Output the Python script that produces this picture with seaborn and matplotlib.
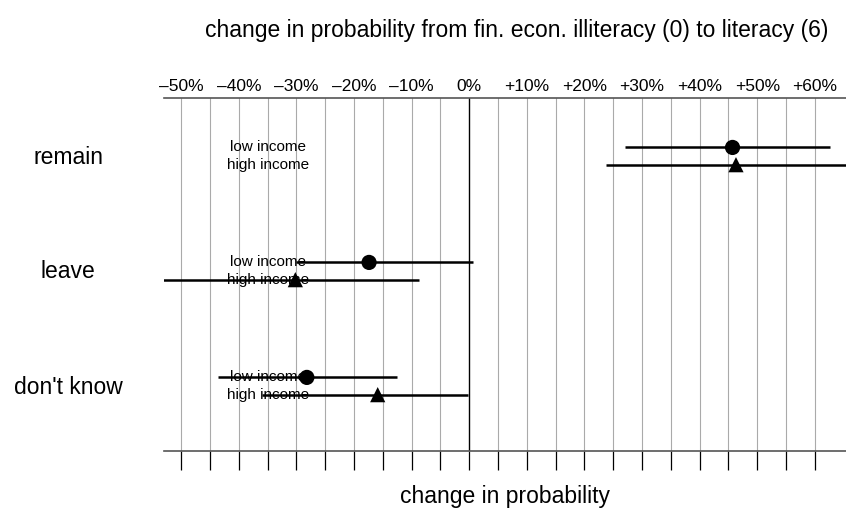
import matplotlib
matplotlib.use('Agg')
import matplotlib.pyplot as plt
import numpy as np
import pandas as pd
import seaborn as sns

sns.set_style('white')
plt.rcParams['font.family'] = ['Liberation Sans', 'DejaVu Sans']
plt.rcParams['text.color'] = 'black'
plt.rcParams['xtick.color'] = 'black'
plt.rcParams['axes.labelcolor'] = 'black'

# data
outcomes = ["remain", "leave", "don't know"]
groups = ["low income", "high income"]
est_low = [0.457, -0.174, -0.282]
lo_low = [0.270, -0.300, -0.437]
hi_low = [0.626, 0.007, -0.126]
est_high = [0.463, -0.302, -0.159]
lo_high = [0.237, -0.560, -0.360]
hi_high = [0.700, -0.087, -0.002]

grid_ticks = np.arange(-0.50, 0.601, 0.05)
label_ticks = np.arange(-0.50, 0.601, 0.10)

rows = []
for i, o in enumerate(outcomes):
    rows.append(dict(outcome=o, row=i, income=groups[0], est=est_low[i], lo=lo_low[i], hi=hi_low[i]))
    rows.append(dict(outcome=o, row=i, income=groups[1], est=est_high[i], lo=lo_high[i], hi=hi_high[i]))
df = pd.DataFrame(rows)
offset = {groups[0]: -0.075, groups[1]: 0.075}
df['y'] = df['row'] + df['income'].map(offset)

fig = plt.figure(figsize=(8.46, 5.13), dpi=100)
ax = fig.add_axes([164 / 846, 62 / 513, 682 / 846, 353 / 513])

# grid
for t in grid_ticks:
    if abs(t) < 1e-9:
        ax.axvline(0, color='black', lw=1.0, zorder=1)
    else:
        ax.axvline(t, color='#aaaaaa', lw=0.8, zorder=1)

# group labels
for i in range(len(outcomes)):
    for g in groups:
        ax.text(-0.35, i + offset[g], g, ha='center', va='center', fontsize=11, zorder=2)

ax.hlines(df['y'], df['lo'], df['hi'], color='black', lw=1.8, zorder=3)
sns.scatterplot(data=df, x='est', y='y', style='income', markers={'low income': 'o', 'high income': '^'},
                color='black', s=120, edgecolor='black', linewidth=0, legend=False, zorder=4, ax=ax)

ax.set_xlim(-0.530, 0.654)
ax.set_ylim(2.565, -0.505)

for s in ['left', 'right']:
    ax.spines[s].set_visible(False)
for s in ['top', 'bottom']:
    ax.spines[s].set_color('#555555')
    ax.spines[s].set_linewidth(1.2)

ax.set_yticks([])
ax.set_ylabel('')
ax.set_xlabel('')
ax.set_xticks(grid_ticks)
ax.tick_params(axis='x', which='major', bottom=True, top=False, labelbottom=False, labeltop=False,
               direction='out', length=14, width=0.9, color='black')

# top tick labels
sec = ax.secondary_xaxis('top')
sec.set_xticks(label_ticks)
sec.set_xticklabels([('0%' if abs(t) < 1e-9 else ('+%d%%' % round(t * 100) if t > 0 else '\u2013%d%%' % round(-t * 100)))
                     for t in label_ticks])
sec.tick_params(length=0, pad=3, labelsize=12.5)
sec.spines['top'].set_visible(False)

for i, o in enumerate(outcomes):
    fig.text(68 / 846, 1 - (157 + i * 115) / 513, o, ha='center', va='center', fontsize=16.5)

fig.text(517 / 846, 1 - 30 / 513, 'change in probability from fin. econ. illiteracy (0) to literacy (6)',
         ha='center', va='center', fontsize=16.5)
fig.text(505 / 846, 1 - 497 / 513, 'change in probability', ha='center', va='center', fontsize=16.5)

fig.savefig('out.png', dpi=100)
